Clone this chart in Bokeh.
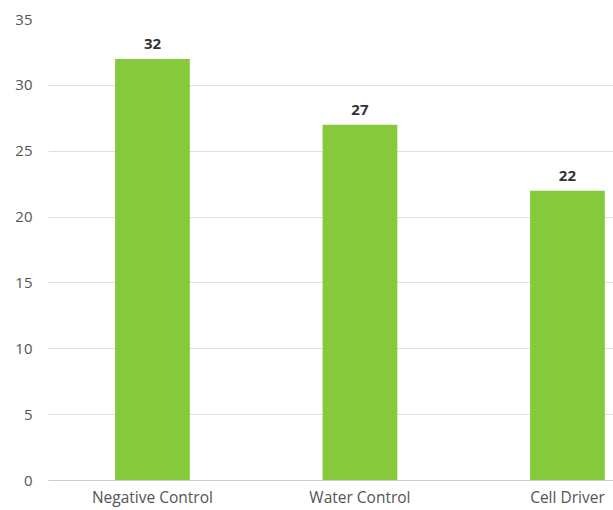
from bokeh.plotting import figure
from bokeh.models import Range1d, FixedTicker, ColumnDataSource, LabelSet
from bokeh.core.properties import value
from bokeh.embed import file_html
from bokeh.resources import INLINE

categories = ["Negative Control", "Water Control", "Cell Driver"]
values = [32, 27, 22]
y_ticks = [0, 5, 10, 15, 20, 25, 30, 35]

xs = list(range(len(categories)))
src = ColumnDataSource(dict(x=xs, top=values, label=[str(v) for v in values]))

p = figure(width=613, height=510, output_backend="svg", toolbar_location=None,
           x_range=Range1d(-0.501, 2.222), y_range=Range1d(0, 35),
           min_border_left=48, min_border_right=0, min_border_top=19, min_border_bottom=0)
p.outline_line_color = None
p.background_fill_color = "white"
p.border_fill_color = "white"

p.vbar(x="x", top="top", width=0.36, bottom=0, source=src, fill_color="#86c93a", line_color=None)

labels = LabelSet(x="x", y="top", text="label", source=src, text_align="center",
                  text_baseline="bottom", y_offset=10, text_font=value("Open Sans"),
                  text_font_style="bold", text_font_size="15px", text_color="#333333")
p.add_layout(labels)

p.xaxis.ticker = FixedTicker(ticks=xs)
p.xaxis.major_label_overrides = {i: c for i, c in enumerate(categories)}
p.xaxis.axis_line_color = "#cccccc"
p.xaxis.major_tick_line_color = None
p.xaxis.major_tick_in = 0
p.xaxis.major_tick_out = 0
p.xaxis.minor_tick_line_color = None
p.xaxis.major_label_text_font = "Open Sans"
p.xaxis.major_label_text_font_size = "15.5px"
p.xaxis.major_label_text_color = "#555555"
p.xaxis.major_label_standoff = 5

p.yaxis.ticker = FixedTicker(ticks=y_ticks)
p.yaxis.axis_line_color = None
p.yaxis.major_tick_line_color = None
p.yaxis.major_tick_in = 0
p.yaxis.major_tick_out = 0
p.yaxis.minor_tick_line_color = None
p.yaxis.major_label_text_font = "Open Sans"
p.yaxis.major_label_text_font_size = "15px"
p.yaxis.major_label_text_color = "#555555"
p.yaxis.major_label_standoff = 16

p.xgrid.grid_line_color = None
p.ygrid.grid_line_color = "#e0e0e0"
p.ygrid.grid_line_width = 1

open("out.html", "w").write(file_html(p, INLINE))
